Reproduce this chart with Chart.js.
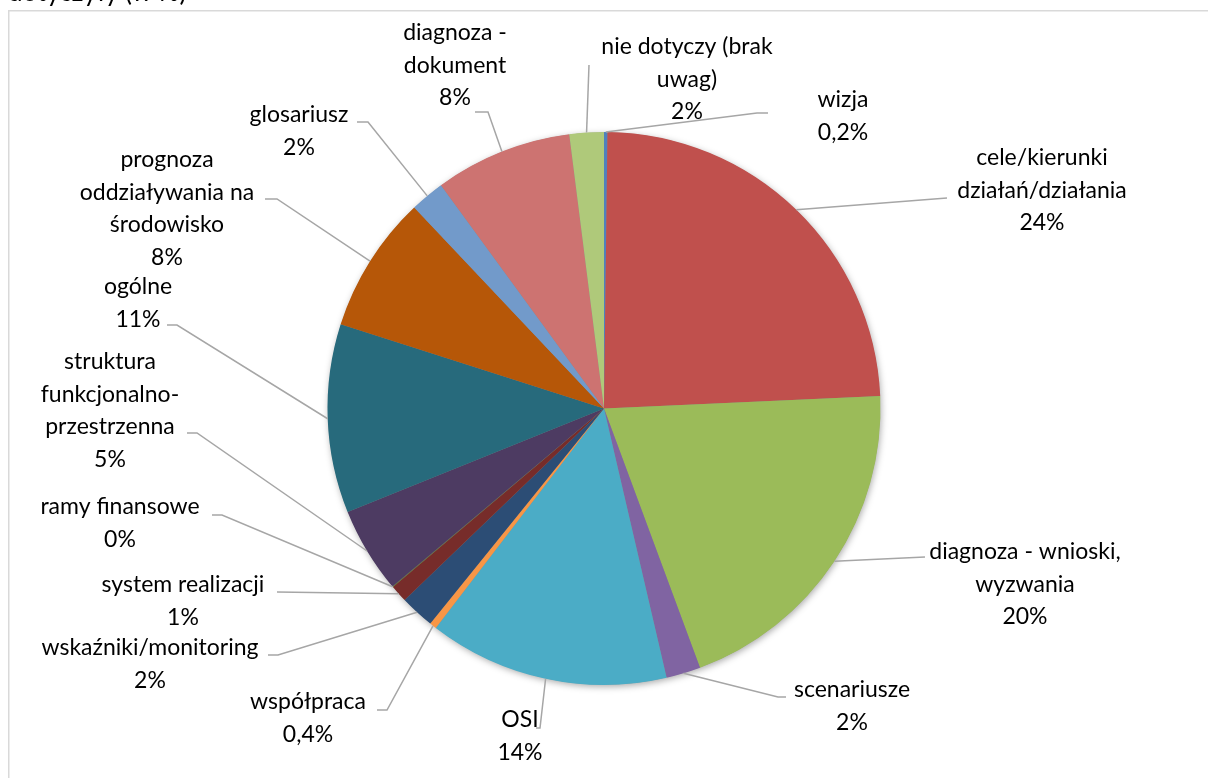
<!DOCTYPE html>
<html>
<head>
<meta charset="utf-8">
<script src="https://cdn.jsdelivr.net/npm/chart.js@4.4.1/dist/chart.umd.min.js"></script>
<style>
  html, body { margin: 0; padding: 0; background: #fff; }
  #wrap { width: 1208px; height: 778px; }
</style>
</head>
<body>
<div id="wrap"><canvas id="pie" width="1208" height="778"></canvas></div>
<script>
// dane wykresu
const categories = [
    ['wizja'],
    ['cele/kierunki', 'działań/działania'],
    ['diagnoza - wnioski,', 'wyzwania'],
    ['scenariusze'],
    ['OSI'],
    ['współpraca'],
    ['wskaźniki/monitoring'],
    ['system realizacji'],
    ['ramy finansowe'],
    ['struktura', 'funkcjonalno-', 'przestrzenna'],
    ['ogólne'],
    ['prognoza', 'oddziaływania na', 'środowisko'],
    ['glosariusz'],
    ['diagnoza -', 'dokument'],
    ['nie dotyczy (brak', 'uwag)']
];
const values = [0.2, 24, 20, 2, 14, 0.4, 2, 1, 0.05, 5, 11, 8, 2, 8, 2];
const pctLabels = ['0,2%', '24%', '20%', '2%', '14%', '0,4%', '2%', '1%', '0%', '5%', '11%', '8%', '2%', '8%', '2%'];

const colors = ['#4f81bd', '#c0504d', '#9bbb59', '#8064a2', '#4bacc6', '#f79646', '#2c4d75', '#772c2a',
    '#5f7530', '#4d3b62', '#276a7c', '#b65708', '#729aca', '#cd7371', '#afc97a'];

// położenie etykiet (środek pierwszej linii) i punkty linii odniesienia
const labelX = [843, 1042, 1025, 852, 520, 308, 150, 183, 120, 110, 138, 167, 299, 455, 687];
const labelY = [100, 158, 552, 690, 720, 702, 648, 585, 507, 362, 287, 160, 115, 33, 47];
const leaders = [
    [[757, 113], [768, 113]],
    [[947, 198]],
    [[925, 557]],
    [[778, 697], [786, 697]],
    [[540, 728], [536, 728]],
    [[387, 710], [377, 710]],
    [[278, 655], [268, 655]],
    [[277, 592]],
    [[222, 515], [212, 515]],
    [[197, 433], [187, 433]],
    [[177, 325], [167, 325]],
    [[277, 199], [265, 199]],
    [[368, 122], [357, 122]],
    [[488, 112], [475, 112]],
    [[589, 65]]
];

const FONT = '23px Lato, "Open Sans", sans-serif';
const LINE_H = 32.4;

const decor = {
    id: 'decor',
    beforeDraw(chart) {
        const ctx = chart.ctx;
        ctx.save();
        ctx.fillStyle = '#fff';
        ctx.fillRect(0, 0, chart.width, chart.height);
        // ramka wykresu
        ctx.strokeStyle = '#d9d9d9';
        ctx.lineWidth = 1.5;
        ctx.strokeRect(8.75, 10.75, 1210, 790);
        // ucięty tytuł
        ctx.fillStyle = '#000';
        ctx.font = '26px Lato, "Open Sans", sans-serif';
        ctx.textBaseline = 'alphabetic';
        ctx.textAlign = 'left';
        ctx.fillText('dotyczyły (w %)', 8, 1);
        ctx.restore();
    },
    beforeDatasetsDraw(chart) {
        const arc = chart.getDatasetMeta(0).data[0];
        const ctx = chart.ctx;
        ctx.save();
        ctx.shadowColor = 'rgba(0,0,0,0.35)';
        ctx.shadowBlur = 7;
        ctx.shadowOffsetX = 1;
        ctx.shadowOffsetY = 2;
        ctx.fillStyle = '#888';
        ctx.beginPath();
        ctx.arc(arc.x, arc.y, arc.outerRadius - 0.5, 0, Math.PI * 2);
        ctx.fill();
        ctx.restore();
    },
    afterDatasetsDraw(chart) {
        const ctx = chart.ctx;
        const arcs = chart.getDatasetMeta(0).data;
        ctx.save();
        // linie odniesienia
        ctx.strokeStyle = '#a6a6a6';
        ctx.lineWidth = 1.5;
        arcs.forEach((a, i) => {
            const mid = (a.startAngle + a.endAngle) / 2;
            ctx.beginPath();
            ctx.moveTo(a.x + Math.cos(mid) * a.outerRadius, a.y + Math.sin(mid) * a.outerRadius);
            leaders[i].forEach(p => ctx.lineTo(p[0], p[1]));
            ctx.stroke();
        });
        // etykiety
        ctx.fillStyle = '#000';
        ctx.font = FONT;
        ctx.textAlign = 'center';
        ctx.textBaseline = 'middle';
        categories.forEach((lines, i) => {
            const all = lines.concat([pctLabels[i]]);
            all.forEach((t, k) => ctx.fillText(t, labelX[i], labelY[i] + k * LINE_H));
        });
        ctx.restore();
    }
};

new Chart(document.getElementById('pie'), {
    type: 'pie',
    data: {
        labels: categories.map(l => l.join(' ')),
        datasets: [{
            data: values,
            backgroundColor: colors,
            borderWidth: 0
        }]
    },
    options: {
        responsive: false,
        animation: false,
        layout: { padding: { top: 132, bottom: 93, left: 300, right: 300 } },
        plugins: {
            legend: { display: false },
            tooltip: { enabled: false }
        }
    },
    plugins: [decor]
});
</script>
</body>
</html>
